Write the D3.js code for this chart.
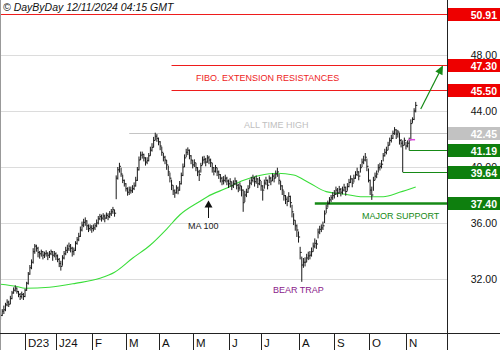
<!DOCTYPE html>
<html>
<head>
<meta charset="utf-8">
<script src="https://cdn.jsdelivr.net/npm/d3@7"></script>
<style>
  html, body { margin: 0; padding: 0; background: #fff; }
  svg { display: block; font-family: "Liberation Sans", Arial, Helvetica, sans-serif; }
</style>
</head>
<body>
<svg id="chart" width="500" height="350"></svg>
<script>
// ---------- session calendar ----------
const firstSession = "2023-11-10";
const lastSession = "2024-11-11";
const holidays = ["2023-12-25", "2023-12-26", "2024-01-01", "2024-03-29", "2024-04-01", "2024-05-01"];

// ---------- month axis ----------
const monthLabels = ["D23", "J24", "F", "M", "A", "M", "J", "J", "A", "S", "O", "N"];
const monthStarts = ["2023-12-01", "2024-01-01", "2024-02-01", "2024-03-01", "2024-04-01", "2024-05-01",
                     "2024-06-01", "2024-07-01", "2024-08-01", "2024-09-01", "2024-10-01", "2024-11-01"];

// ---------- daily prices (one entry per session) ----------
const closes = [
  29.4, 29.7, 29.8, 30.15, 30.35, 30.2, 30.6, 31.0, 31.2, 31.35, 31.1, 30.9, 30.75, 30.9, 30.75,
  31.2, 31.7, 32.35, 32.8, 33.2, 33.95, 34.35, 34.2, 33.9, 33.8, 33.95, 33.7, 33.8, 33.85, 33.7, 33.8, 33.95, 33.7, 33.8,
  33.65, 33.4, 33.1, 32.9, 33.5, 33.8, 34.05, 34.15, 34.35, 34.2, 33.95, 34.05, 34.55, 34.8, 35.05, 35.5, 35.85, 36.05, 36.15, 35.8, 35.6, 35.7,
  35.6, 35.65, 35.8, 36.0, 36.3, 36.45, 36.35, 36.5, 36.35, 36.55, 36.45, 36.65, 36.8, 36.95, 36.7, 39.2, 39.8, 40.05, 39.5, 39.05, 38.8,
  38.45, 38.2, 38.35, 38.3, 38.45, 38.65, 39.05, 39.8, 40.5, 40.85, 40.9, 40.65, 40.35, 40.45, 40.8, 41.2, 41.4, 41.9, 42.2, 42.05,
  41.8, 41.5, 41.05, 40.7, 40.5, 40.15, 39.65, 39.2, 38.7, 38.3, 38.15, 38.5, 38.35, 38.8, 39.4, 40.0, 40.65, 41.05, 41.2, 40.8, 40.5,
  40.15, 40.3, 39.95, 39.65, 39.45, 40.1, 40.5, 40.55, 40.35, 40.65, 40.5, 40.3, 39.95, 39.7, 39.95, 39.65, 39.45, 39.2, 39.0, 39.05, 39.2, 39.0,
  38.8, 38.95, 38.65, 38.8, 39.0, 38.7, 38.5, 38.65, 38.35, 37.45, 38.0, 38.2, 38.45, 38.85, 39.05, 39.2, 38.95, 39.15, 38.8, 39.05,
  38.65, 38.35, 38.85, 39.05, 38.7, 39.2, 39.0, 39.35, 39.2, 39.5, 39.65, 39.05, 38.65, 38.35, 37.95, 37.7, 37.55, 37.9, 37.45, 36.8, 36.2, 35.8, 35.5,
  35.0, 33.9, 33.0, 33.2, 33.2, 33.5, 33.65, 33.7, 33.95, 34.35, 34.55, 34.5, 35.35, 35.55, 35.65, 35.8, 36.65, 37.05, 37.4, 37.65, 37.8, 37.95,
  38.05, 38.35, 38.15, 38.4, 38.2, 38.35, 38.55, 38.25, 38.6, 38.9, 39.15, 38.85, 39.2, 39.45, 39.65, 39.35, 39.95, 40.35, 40.5, 40.7, 40.05,
  39.05, 38.35, 38.0, 39.05, 39.35, 39.5, 39.95, 40.05, 40.2, 40.8, 41.05, 41.2, 41.55, 41.9, 42.05, 42.4, 42.65, 42.35, 42.5, 41.9, 41.7, 41.55, 41.9,
  41.5, 41.7, 41.95, 43.1, 43.4, 44.0, 44.4
];
const highs = [
  29.6, 29.85, 30.1, 30.3, 30.55, 30.45, 30.8, 31.15, 31.4, 31.55, 31.4, 31.15, 31.0, 31.1, 31.0,
  31.3, 31.8, 32.5, 33.0, 33.4, 34.2, 34.5, 34.45, 34.3, 34.0, 34.1, 34.0, 33.95, 34.05, 33.9, 34.0, 34.1, 34.0, 34.0,
  33.9, 33.75, 33.5, 33.3, 33.7, 34.0, 34.3, 34.45, 34.6, 34.5, 34.3, 34.25, 34.7, 35.0, 35.3, 35.75, 36.1, 36.3, 36.4, 36.2, 35.9, 35.9,
  35.85, 35.9, 36.0, 36.25, 36.5, 36.65, 36.6, 36.7, 36.6, 36.75, 36.7, 36.85, 37.0, 37.15, 36.95, 39.4, 40.0, 40.3, 39.95, 39.45, 39.1,
  38.85, 38.55, 38.6, 38.6, 38.7, 38.9, 39.3, 40.0, 40.75, 41.1, 41.1, 40.95, 40.7, 40.7, 41.0, 41.45, 41.7, 42.15, 42.45, 42.35,
  42.1, 41.85, 41.45, 41.0, 40.8, 40.5, 40.1, 39.6, 39.1, 38.7, 38.4, 38.7, 38.6, 39.0, 39.6, 40.25, 40.9, 41.3, 41.4, 41.25, 40.85,
  40.5, 40.55, 40.3, 40.0, 39.8, 40.3, 40.75, 40.8, 40.65, 40.85, 40.8, 40.6, 40.3, 40.0, 40.15, 39.95, 39.75, 39.5, 39.3, 39.35, 39.45, 39.3,
  39.1, 39.2, 38.95, 39.05, 39.25, 39.05, 38.8, 38.9, 38.65, 38.4, 38.3, 38.45, 38.7, 39.1, 39.3, 39.45, 39.3, 39.4, 39.2, 39.3,
  39.0, 38.7, 39.1, 39.3, 39.1, 39.4, 39.3, 39.55, 39.5, 39.75, 39.95, 39.5, 39.0, 38.7, 38.3, 38.0, 37.9, 38.2, 37.95, 37.3, 36.7, 36.2, 35.9,
  35.4, 34.3, 33.6, 33.5, 33.55, 33.8, 33.95, 34.0, 34.25, 34.6, 34.9, 34.8, 35.6, 35.8, 35.9, 36.1, 36.9, 37.3, 37.6, 37.85, 38.0, 38.2,
  38.35, 38.6, 38.5, 38.65, 38.5, 38.6, 38.8, 38.6, 38.85, 39.15, 39.4, 39.2, 39.45, 39.7, 39.95, 39.7, 40.2, 40.6, 40.8, 41.0, 40.6,
  39.9, 39.1, 38.6, 39.3, 39.6, 39.75, 40.2, 40.3, 40.5, 41.0, 41.3, 41.45, 41.8, 42.1, 42.3, 42.6, 42.85, 42.7, 42.65, 42.45, 42.0, 41.9, 42.1,
  41.8, 41.9, 42.1, 43.4, 43.55, 44.2, 44.65
];
const lows = [
  29.1, 29.35, 29.5, 29.7, 30.05, 30.0, 30.2, 30.55, 30.95, 31.1, 30.95, 30.7, 30.5, 30.6, 30.5,
  30.7, 31.15, 31.6, 32.3, 32.7, 33.1, 33.8, 33.95, 33.55, 33.45, 33.6, 33.4, 33.5, 33.6, 33.35, 33.5, 33.7, 33.3, 33.55,
  33.35, 33.2, 32.85, 32.6, 32.95, 33.4, 33.7, 33.85, 34.0, 33.9, 33.6, 33.7, 34.0, 34.45, 34.7, 35.0, 35.4, 35.7, 35.8, 35.5, 35.35, 35.45,
  35.3, 35.4, 35.5, 35.7, 35.9, 36.2, 36.1, 36.2, 36.05, 36.3, 36.2, 36.35, 36.5, 36.65, 36.45, 37.7, 39.1, 39.6, 39.3, 38.85, 38.6,
  38.25, 37.95, 38.0, 38.1, 38.15, 38.35, 38.6, 39.0, 39.75, 40.5, 40.6, 40.4, 40.1, 40.2, 40.4, 40.8, 41.1, 41.4, 41.9, 41.8,
  41.55, 41.2, 40.8, 40.4, 40.2, 39.8, 39.35, 38.9, 38.35, 38.0, 37.8, 38.1, 38.05, 38.3, 38.75, 39.35, 40.0, 40.7, 40.85, 40.55, 40.2,
  39.9, 40.0, 39.7, 39.35, 39.0, 39.6, 40.15, 40.25, 40.05, 40.3, 40.2, 40.0, 39.6, 39.4, 39.6, 39.35, 39.15, 38.9, 38.7, 38.75, 38.9, 38.7,
  38.5, 38.6, 38.35, 38.5, 38.7, 38.4, 38.2, 38.3, 37.9, 36.8, 37.5, 37.85, 38.15, 38.5, 38.7, 38.9, 38.6, 38.8, 38.5, 38.7,
  38.3, 37.6, 38.45, 38.7, 38.4, 38.85, 38.7, 39.0, 38.9, 39.2, 39.3, 38.75, 38.35, 38.0, 37.6, 37.35, 37.2, 37.5, 37.1, 36.4, 35.85, 35.45, 35.0,
  34.6, 33.4, 31.8, 32.8, 32.9, 33.2, 33.35, 33.4, 33.6, 33.95, 34.2, 34.15, 34.9, 35.2, 35.35, 35.5, 36.0, 36.7, 37.1, 37.35, 37.5, 37.65,
  37.75, 38.0, 37.85, 38.1, 37.9, 38.05, 38.25, 37.95, 38.3, 38.55, 38.85, 38.55, 38.9, 39.15, 39.35, 39.05, 39.6, 40.0, 40.2, 40.4, 39.7,
  38.9, 38.0, 37.65, 38.3, 39.05, 39.2, 39.6, 39.75, 39.9, 40.4, 40.75, 40.9, 41.2, 41.55, 41.75, 42.0, 42.3, 42.0, 42.1, 41.6, 41.4, 39.64, 41.55,
  41.25, 41.4, 41.19, 41.9, 43.15, 43.35, 43.9
];

// ---------- 100-day moving average (session index, value) ----------
const maSessions = [0, 10, 15, 30, 46, 61, 70, 81, 92, 102, 110, 122, 127, 139, 148, 159, 170, 180, 190, 200, 212, 221, 235, 245, 255];
const maValues   = [31.62, 31.46, 31.34, 31.41, 31.69, 32.05, 32.48, 33.48, 34.43, 35.57, 36.57, 37.52, 37.88, 38.5, 39.0,
                    39.39, 39.55, 39.43, 38.84, 38.24, 38.05, 37.88, 37.88, 38.19, 38.57];

// ---------- levels ----------
const yTicks = [32, 36, 40, 44, 48];
const resistances = [50.91, 47.30, 45.50];
const allTimeHigh = 42.45;
const supports = [41.19, 39.64, 37.40];
const majorSupport = 37.40;

// ---------- build ----------
const fmt = d3.utcFormat("%Y-%m-%d");
const parse = d3.utcParse("%Y-%m-%d");
const sessions = d3.utcDay.range(parse(firstSession), d3.utcDay.offset(parse(lastSession), 1))
  .filter(d => d.getUTCDay() !== 0 && d.getUTCDay() !== 6 && !holidays.includes(fmt(d)));
const sessionOf = s => sessions.findIndex(d => fmt(d) >= s);

const W = 500, H = 350;
const plotRight = 447.5, plotBottom = 333.5;

const x = d3.scaleLinear().domain([0, 274]).range([0.6, 0.6 + 274 * 1.628]);
const y = d3.scaleLinear().domain([28, 52]).range([335, -1]);

const svg = d3.select("#chart");
const RED = "#ee1c1c", GREEN = "#168a16", BOXGREEN = "#0e7f0e";

// grid
svg.append("g").selectAll("line").data(yTicks).join("line")
  .attr("x1", 0).attr("x2", plotRight)
  .attr("y1", d => Math.round(y(d)) + 0.5).attr("y2", d => Math.round(y(d)) + 0.5)
  .attr("stroke", "#dcdcdc").attr("stroke-width", 1);

// all-time-high line
svg.append("line")
  .attr("x1", x(79)).attr("x2", plotRight)
  .attr("y1", Math.round(y(allTimeHigh)) + 0.5).attr("y2", Math.round(y(allTimeHigh)) + 0.5)
  .attr("stroke", "#c4c4c4");
svg.append("text").attr("x", 244).attr("y", y(allTimeHigh) - 4.5)
  .attr("font-size", 9).attr("fill", "#c0c0c0").text("ALL TIME HIGH");

// resistance lines
svg.append("g").selectAll("line").data(resistances).join("line")
  .attr("x1", (d, i) => i === 0 ? 0 : x(105)).attr("x2", plotRight)
  .attr("y1", d => Math.round(y(d)) + 0.5).attr("y2", d => Math.round(y(d)) + 0.5)
  .attr("stroke", RED).attr("stroke-width", 1);
svg.append("text").attr("x", 196).attr("y", (y(resistances[1]) + y(resistances[2])) / 2 + 4)
  .attr("font-size", 9).attr("fill", RED).text("FIBO. EXTENSION RESISTANCES");

// moving average
svg.append("path")
  .datum(maSessions.map((s, i) => [s, maValues[i]]))
  .attr("fill", "none").attr("stroke", "#3ade3a").attr("stroke-width", 1.1)
  .attr("d", d3.line().x(d => x(d[0])).y(d => y(d[1])).curve(d3.curveMonotoneX));

// support lines
const supportStart = [251, 247, 193];
svg.append("g").selectAll("line").data(supports).join("line")
  .attr("x1", (d, i) => x(supportStart[i])).attr("x2", plotRight)
  .attr("y1", d => Math.round(y(d)) + 0.5).attr("y2", d => Math.round(y(d)) + 0.5)
  .attr("stroke", GREEN).attr("stroke-width", d => d === majorSupport ? 2.5 : 1);

// price bars (high-low with close tick)
const bars = svg.append("g").attr("stroke", "#1a1a1a").attr("stroke-width", 1);
bars.selectAll("line.hl").data(closes).join("line").attr("class", "hl")
  .attr("x1", (d, i) => x(i)).attr("x2", (d, i) => x(i))
  .attr("y1", (d, i) => y(highs[i])).attr("y2", (d, i) => y(lows[i]));
bars.selectAll("line.cl").data(closes).join("line").attr("class", "cl")
  .attr("x1", (d, i) => x(i)).attr("x2", (d, i) => x(i) + 1.6)
  .attr("y1", d => y(d)).attr("y2", d => y(d));

// previous close marker
svg.append("line")
  .attr("x1", x(250.5)).attr("x2", x(254.6))
  .attr("y1", y(closes[251])).attr("y2", y(closes[251]))
  .attr("stroke", "#e046e0").attr("stroke-width", 1.5);

// annotations
svg.append("text").attr("x", 362).attr("y", y(majorSupport) + 15.5)
  .attr("font-size", 9).attr("fill", GREEN).text("MAJOR SUPPORT");
svg.append("text").attr("x", 273).attr("y", y(lows[185]) + 11.5)
  .attr("font-size", 9).attr("fill", "#8a1a8a").text("BEAR TRAP");

// MA 100 pointer
const maArrowX = 208.5;
svg.append("line").attr("x1", maArrowX).attr("x2", maArrowX).attr("y1", 218).attr("y2", 205)
  .attr("stroke", "#111").attr("stroke-width", 1);
svg.append("path").attr("d", `M${maArrowX},200.5 L${maArrowX - 4},207.5 L${maArrowX + 4},207.5 Z`).attr("fill", "#111");
svg.append("text").attr("x", 188).attr("y", 228.5)
  .attr("font-size", 9).attr("fill", "#222").text("MA 100");

// target arrow
const ax0 = x(255) + 5, ay0 = y(highs[255]) + 7, ax1 = 443, ay1 = y(resistances[1]) + 0.5;
const ang = Math.atan2(ay1 - ay0, ax1 - ax0);
const hl = 9, hw = 4;
const bx = ax1 - hl * Math.cos(ang), by = ay1 - hl * Math.sin(ang);
svg.append("line").attr("x1", ax0).attr("y1", ay0).attr("x2", bx).attr("y2", by)
  .attr("stroke", GREEN).attr("stroke-width", 1.2);
svg.append("path")
  .attr("d", `M${ax1},${ay1} L${bx - hw * Math.sin(ang)},${by + hw * Math.cos(ang)} L${bx + hw * Math.sin(ang)},${by - hw * Math.cos(ang)} Z`)
  .attr("fill", GREEN);

// frame
svg.append("line").attr("x1", 0.5).attr("x2", 0.5).attr("y1", 0).attr("y2", H).attr("stroke", "#999");
svg.append("line").attr("x1", plotRight).attr("x2", plotRight).attr("y1", 0).attr("y2", H).attr("stroke", "#222");
svg.append("line").attr("x1", 0).attr("x2", W).attr("y1", plotBottom).attr("y2", plotBottom).attr("stroke", "#222");

// month axis
const mIdx = monthStarts.map(sessionOf);
svg.append("g").selectAll("line").data(mIdx).join("line")
  .attr("x1", d => Math.round(x(d)) + 0.5).attr("x2", d => Math.round(x(d)) + 0.5)
  .attr("y1", plotBottom).attr("y2", H).attr("stroke", "#222");
svg.append("g").selectAll("text").data(mIdx).join("text")
  .attr("x", d => Math.round(x(d)) + 3).attr("y", 346.5)
  .attr("font-size", 11.5).attr("fill", "#111").text((d, i) => monthLabels[i]);

// price axis ticks
svg.append("g").selectAll("text").data(yTicks).join("text")
  .attr("x", 497).attr("y", d => y(d) + 4).attr("text-anchor", "end")
  .attr("font-size", 10.5).attr("fill", "#111").text(d => d.toFixed(2));

// level tags
const tags = [
  ...resistances.map(v => ({ v, fill: "#ee0000" })),
  { v: allTimeHigh, fill: "#c2c2c2" },
  ...supports.map(v => ({ v, fill: BOXGREEN }))
];
const tagG = svg.append("g").selectAll("g").data(tags).join("g");
tagG.append("rect").attr("x", 448).attr("width", 52)
  .attr("y", d => Math.round(y(d.v)) - 6).attr("height", 13).attr("fill", d => d.fill);
tagG.append("text").attr("x", 497).attr("y", d => Math.round(y(d.v)) + 4.5).attr("text-anchor", "end")
  .attr("font-size", 10.5).attr("font-weight", "bold").attr("fill", "#fff").text(d => d.v.toFixed(2));

// header
svg.append("text").attr("x", 3).attr("y", 10.5).attr("font-size", 10.5).attr("font-style", "italic")
  .attr("fill", "#111").text("© DayByDay 12/11/2024 04:15 GMT");
</script>
</body>
</html>
